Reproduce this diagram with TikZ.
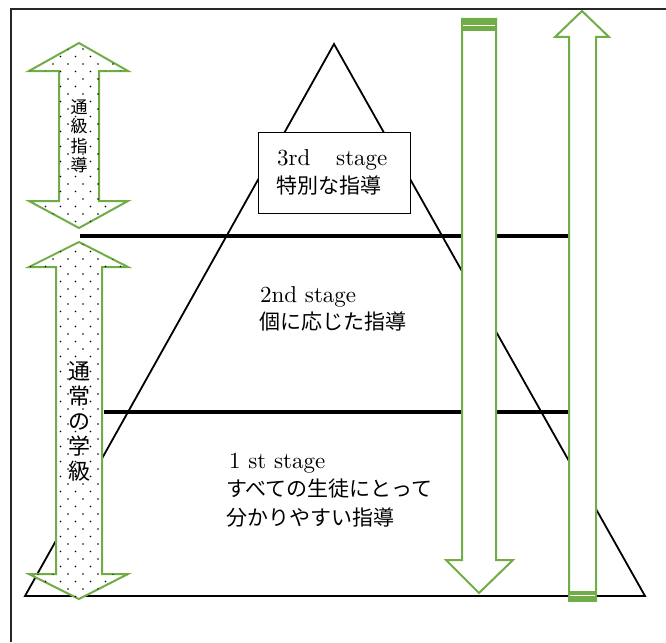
\documentclass[tikz,border=0pt]{standalone}
\usepackage{fontspec}
\newfontfamily\jp{Noto Sans CJK JP}
\newfontfamily\lat{lmroman10-regular}[Extension=.otf]
\usetikzlibrary{patterns}
\pgfdeclarepatternformonly{sparsedots}{\pgfpoint{-1pt}{-1pt}}{\pgfpoint{16pt}{16pt}}{\pgfpoint{15pt}{15pt}}{%
  \pgfpathcircle{\pgfpoint{0.5pt}{0.5pt}}{0.8pt}%
  \pgfpathcircle{\pgfpoint{8pt}{8pt}}{0.8pt}%
  \pgfusepath{fill}}
\definecolor{offgreen}{HTML}{70AD47}
\tikzset{
  frameline/.style={line width=1.4pt, black!85},
  pyramid/.style={line width=1.8pt, black, line join=miter},
  divider/.style={line width=4.6pt, black},
  stagebox/.style={draw=black, line width=1pt, fill=white},
  dotarrow/.style={draw=offgreen, line width=2pt, fill=white, postaction={pattern=sparsedots, pattern color=black}},
  plainarrow/.style={draw=offgreen, line width=2pt, fill=white},
  band/.style={fill=offgreen},
  latin/.style={font=\lat\fontsize{23}{26}\selectfont, anchor=base west, inner sep=0pt},
  jtext/.style={font=\jp\fontsize{21}{26}\selectfont, anchor=base west, inner sep=0pt},
}
\begin{document}
\begin{tikzpicture}[x=1pt, y=-1pt]
\useasboundingbox (0,0) rectangle (666,642);
% frame
\draw[frameline] (11,642) -- (11,9) -- (666,9);
% pyramid
\coordinate (apex) at (334,44);
\coordinate (bl) at (25,596);
\coordinate (br) at (645,596);
\draw[pyramid] (apex) -- (br) -- (bl) -- cycle;
% dividers
\coordinate (d1a) at (80,236);
\coordinate (d1b) at (569,236);
\coordinate (d2a) at (104,412);
\coordinate (d2b) at (569,412);
\draw[divider] (d1a) -- (d1b);
\draw[divider] (d2a) -- (d2b);
% 3rd stage box
\draw[stagebox] (258,132) rectangle (410,213);
\node[latin] (s3a) at (277,165) {3rd};
\node[latin] (s3b) at (336,165) {stage};
\node[jtext] (s3j) at (276,193) {特別な指導};
% 2nd stage
\node[latin] (s2a) at (260,302) {2nd stage};
\node[jtext] (s2j) at (259,329) {個に応じた指導};
% 1st stage
\node[latin] (s1a) at (229,468) {1 st stage};
\node[jtext] (s1j) at (226,496) {すべての生徒にとって};
\node[jtext] (s1k) at (226,525) {分かりやすい指導};
% left dotted arrows
\draw[dotarrow] (79,43) -- (128,71) -- (99,71) -- (99,201) -- (128,201) -- (79,228)
  -- (29,201) -- (59,201) -- (59,71) -- (29,71) -- cycle;
\node[font=\jp\fontsize{17}{19.5}\selectfont, align=center, inner sep=0pt] (tsu) at (79,136) {通\\級\\指\\導};
\draw[dotarrow] (79,242) -- (128,267) -- (102,267) -- (102,574) -- (128,574) -- (79,599)
  -- (29,574) -- (56,574) -- (56,267) -- (29,267) -- cycle;
\node[font=\jp\fontsize{22}{25}\selectfont, align=center, inner sep=0pt] (tsj) at (79,421) {通\\常\\の\\学\\級};
% down arrow
\draw[plainarrow] (462,19) -- (496,19) -- (496,560) -- (513,560) -- (479,593) -- (446,560) -- (462,560) -- cycle;
\fill[band] (461,18) rectangle (497,31);
\draw[white, line width=0.8pt] (463,25.5) -- (495,25.5);
% up arrow
\draw[plainarrow] (582,11) -- (609,37) -- (596,37) -- (596,600) -- (569,600) -- (569,37) -- (555,37) -- cycle;
\fill[band] (568,591) rectangle (597,602);
\draw[white, line width=0.8pt] (570,595) -- (595,595);
\end{tikzpicture}
\end{document}
